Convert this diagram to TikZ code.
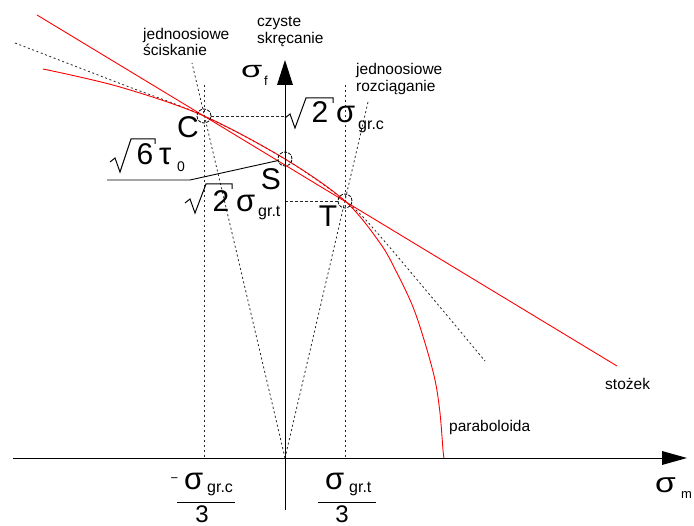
\documentclass[tikz,border=0pt]{standalone}
\usepackage{fontspec}
\setmainfont{Liberation Sans}
\usepackage{graphicx}
\newcommand\myrad[4]{\draw[radl] (#1-10,#2-10) -- (#1-5,#2-14) -- (#1,#2) -- (#1+11,#2-#4) -- (#1+#3,#2-#4) -- (#1+#3,#2-#4+5);}
\newcommand\fsz[1]{\fontsize{#1}{#1}\selectfont}
\begin{document}
\begin{tikzpicture}[x=1pt,y=-1pt,
  ax/.style={line width=0.9pt, black},
  redl/.style={red, line width=0.9pt},
  dsh/.style={black!85, line width=0.8pt, dash pattern=on 2.5pt off 2.5pt},
  dotl/.style={black!85, line width=0.8pt, dash pattern=on 2pt off 2.6pt},
  radl/.style={black, line width=1pt, line join=miter},
  mk/.style={circle, draw=black, line width=0.8pt, dash pattern=on 3.2pt off 1.2pt, minimum size=14pt, inner sep=0pt},
  lbl/.style={font=\fsz{15.5}, inner sep=0pt, anchor=base west},
  big/.style={font=\fsz{30}, inner sep=0pt, anchor=base},
  bigw/.style={font=\fsz{31}, inner sep=0pt, anchor=base west},
  sub/.style={font=\fsz{16}, inner sep=0pt, anchor=base west}]
\useasboundingbox (0,0) rectangle (694,526);
\fill[white] (0,0) rectangle (694,526);
% key points
\coordinate (O) at (285,458);
\coordinate (C) at (204,116);
\coordinate (S) at (285,159);
\coordinate (T) at (345,201);
\coordinate (xs) at (13,458);
\coordinate (xe) at (662,458);
\coordinate (ys) at (285,510);
\coordinate (ye) at (285,85);
% guide lines
\draw[dsh] (204,85) -- (204,458);
\draw[dsh] (345,85) -- (345,458);
\draw[dsh] (211,116) -- (285,116);
\draw[dsh] (285,201) -- (338,201);
\coordinate (cu) at (192,63);
\coordinate (tu) at (368,102);
\draw[dotl] (O) -- (cu);
\draw[dotl] (O) -- (tu);
\draw[dotl] plot[smooth, tension=0.55] coordinates {(15,43) (120,83.5) (204,116) (285,159) (345,201) (380,236) (485,361)};
% red curves
\coordinate (r1) at (37,15);
\coordinate (r2) at (617,366);
\draw[redl] (r1) -- (r2);
\draw[redl] plot[smooth, tension=0.55] coordinates {(43,69) (120,87) (204,116) (285,159) (345,201) (380,243) (397,273) (413,307) (425,343) (435,380) (440,413) (443,450) (444,458)};
% axes
\draw[ax] (xs) -- (xe);
\fill (687,458) -- (662,451) -- (662,465) -- cycle;
\draw[ax] (ys) -- (ye);
\fill (285,60) -- (277,85) -- (293,85) -- cycle;
% marks
\node[mk] (Cc) at (C) {};
\node[mk] (Sc) at (S) {};
\node[mk] (Tc) at (T) {};
\node[big] (Cl) at (188,138) {C};
\node[big] (Sl) at (271,190) {S};
\node[big] (Tl) at (328,227) {T};
% sqrt6 tau0 with leader
\coordinate (l1) at (107,180);
\coordinate (l2) at (190,180);
\draw[black, line width=0.9pt] (l1) -- (l2) -- (Sc);
\myrad{120}{172}{35}{33}
\node[big] (six) at (145,165) {6};
\node[bigw] (tau) at (159,165) {τ};
\node[font=\fsz{14}, inner sep=0pt, anchor=base west] (tau0) at (177,172) {0};
% sqrt2 sigma gr.c
\myrad{295}{128}{38}{30}
\node[big] (two1) at (320,123) {2};
\node[bigw] (sg1) at (336,123) {σ};
\node[sub] (grc) at (358,130) {gr.c};
% sqrt2 sigma gr.t
\myrad{195}{213}{37}{29}
\node[big] (two2) at (221,212) {2};
\node[bigw] (sg2) at (236,212) {σ};
\node[sub] (grt) at (258,217) {gr.t};
% axis labels
\node[inner sep=0pt, anchor=base west] (sf) at (241,78) {\fsz{23}\scalebox{1.5}[1]{σ}};
\node[font=\fsz{13}, inner sep=0pt, anchor=base west] (sff) at (264,86) {f};
\node[inner sep=0pt, anchor=base west] (sm) at (655,493) {\fsz{28}\scalebox{1.2}[1]{σ}};
\node[font=\fsz{13}, inner sep=0pt, anchor=base west] (smm) at (681,499) {m};
% fractions
\node[font=\fsz{13}, inner sep=0pt] (minus) at (174.5,480) {−};
\node[bigw] (fs1) at (184,490) {σ};
\node[sub] (fg1) at (207,493) {gr.c};
\coordinate (b1a) at (177,502);
\coordinate (b1b) at (235,502);
\draw[black, line width=0.9pt] (b1a) -- (b1b);
\node[font=\fsz{24}, inner sep=0pt, anchor=base] (d1) at (202,522) {3};
\node[bigw] (fs2) at (325,490) {σ};
\node[sub] (fg2) at (349,493) {gr.t};
\coordinate (b2a) at (318,502);
\coordinate (b2b) at (376,502);
\draw[black, line width=0.9pt] (b2a) -- (b2b);
\node[font=\fsz{24}, inner sep=0pt, anchor=base] (d2) at (342,522) {3};
% text labels
\node[lbl] (t1) at (143,40) {jednoosiowe};
\node[lbl] (t2) at (143,56) {ściskanie};
\node[lbl] (t3) at (257,27) {czyste};
\node[lbl] (t4) at (257,44) {skręcanie};
\node[lbl] (t5) at (356,75) {jednoosiowe};
\node[lbl] (t6) at (356,92) {rozciąganie};
\node[lbl] (t7) at (449,432) {paraboloida};
\node[lbl] (t8) at (605,390) {stożek};
\end{tikzpicture}
\end{document}
